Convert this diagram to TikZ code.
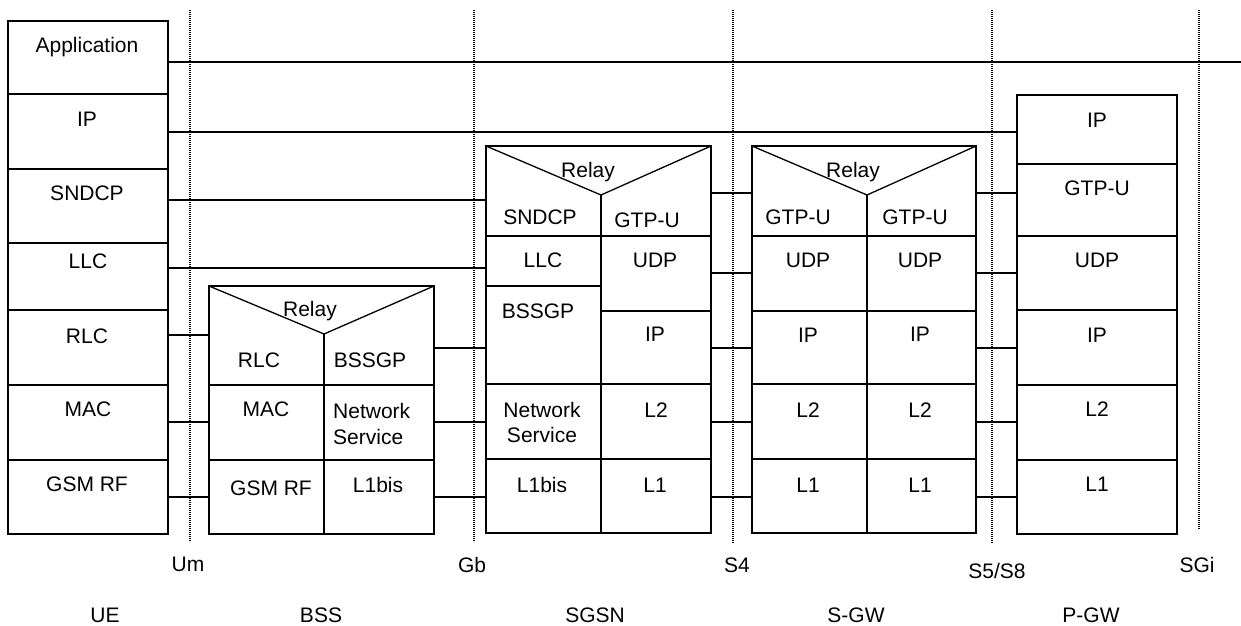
\documentclass[tikz,border=0pt]{standalone}
\usepackage{fontspec}
\setmainfont{Liberation Sans}
\tikzset{
  box/.style={draw, line width=1.3pt, inner sep=0pt, outer sep=0pt},
  conn/.style={line width=1.3pt},
  ifc/.style={line width=2pt, dash pattern=on 1.3pt off 0.7pt},
  txt/.style={anchor=base, inner sep=0pt, font=\fontsize{21}{25.5}\selectfont},
}
\newcommand\mkcell[5]{\node[box, minimum width={#4-#2}, minimum height={#5-#3}] (#1) at ({(#2+#4)/2},{(#3+#5)/2}) {};}
\begin{document}
\begin{tikzpicture}[x=1pt,y=-1pt]
\useasboundingbox (0,0) rectangle (1241,625);
% ---------- UE ----------
\mkcell{ueApp}{8}{21}{168}{94}
\mkcell{ueIP}{8}{94}{168}{169}
\mkcell{ueSNDCP}{8}{169}{168}{243}
\mkcell{ueLLC}{8}{243}{168}{310}
\mkcell{ueRLC}{8}{310}{168}{385}
\mkcell{ueMAC}{8}{385}{168}{460}
\mkcell{ueRF}{8}{460}{168}{534}
\node[txt] (tueApp) at (87,52) {Application};
\node[txt] (tueIP) at (87,126) {IP};
\node[txt] (tueSNDCP) at (87,200) {SNDCP};
\node[txt] (tueLLC) at (88,268) {LLC};
\node[txt] (tueRLC) at (87,343) {RLC};
\node[txt] (tueMAC) at (88,416) {MAC};
\node[txt] (tueRF) at (87,491) {GSM RF};
% ---------- BSS ----------
\mkcell{bssTop}{209}{286}{434}{385}
\mkcell{bssMAC}{209}{385}{324}{460}
\mkcell{bssNS}{324}{385}{434}{460}
\mkcell{bssRF}{209}{460}{324}{534}
\mkcell{bssL1}{324}{460}{434}{534}
\coordinate (bssV) at (324,334);
\draw[conn] (bssTop.north west) -- (bssV) -- (bssTop.north east);
\draw[conn] (bssV) -- (bssV |- bssTop.south);
\node[txt] (tbssRelay) at (310,316) {Relay};
\node[txt] (tbssRLC) at (259,367) {RLC};
\node[txt] (tbssBSSGP) at (370,367) {BSSGP};
\node[txt] (tbssMAC) at (266,416) {MAC};
\node[txt,anchor=base west] (tbssNet) at (333,418) {Network};
\node[txt,anchor=base west] (tbssSer) at (333,444) {Service};
\node[txt] (tbssRF) at (271,495) {GSM RF};
\node[txt] (tbssL1) at (378,492) {L1bis};
% ---------- SGSN ----------
\mkcell{sgsnTop}{486}{146}{711}{236}
\mkcell{sgsnLLC}{486}{236}{601}{286}
\mkcell{sgsnBSSGP}{486}{286}{601}{384}
\mkcell{sgsnNS}{486}{384}{601}{459}
\mkcell{sgsnL1bis}{486}{459}{601}{533}
\mkcell{sgsnUDP}{601}{236}{711}{311}
\mkcell{sgsnIP}{601}{311}{711}{384}
\mkcell{sgsnL2}{601}{384}{711}{459}
\mkcell{sgsnL1}{601}{459}{711}{533}
\coordinate (sgsnV) at (601,195);
\draw[conn] (sgsnTop.north west) -- (sgsnV) -- (sgsnTop.north east);
\draw[conn] (sgsnV) -- (sgsnV |- sgsnTop.south);
\node[txt] (tsgsnRelay) at (588,177) {Relay};
\node[txt] (tsgsnSNDCP) at (540,224) {SNDCP};
\node[txt] (tsgsnGTP) at (647,227) {GTP-U};
\node[txt] (tsgsnLLC) at (543,267) {LLC};
\node[txt] (tsgsnUDP) at (655,267) {UDP};
\node[txt] (tsgsnBSSGP) at (538,318) {BSSGP};
\node[txt] (tsgsnIP) at (655,341) {IP};
\node[txt] (tsgsnNet) at (542,417) {Network};
\node[txt] (tsgsnSer) at (542,442) {Service};
\node[txt] (tsgsnL2) at (656,417) {L2};
\node[txt] (tsgsnL1bis) at (542,492) {L1bis};
\node[txt] (tsgsnL1) at (655,492) {L1};
% ---------- S-GW ----------
\mkcell{sgwTop}{752}{146}{976}{236}
\mkcell{sgwUDPa}{752}{236}{867}{311}
\mkcell{sgwUDPb}{867}{236}{976}{311}
\mkcell{sgwIPa}{752}{311}{867}{384}
\mkcell{sgwIPb}{867}{311}{976}{384}
\mkcell{sgwL2a}{752}{384}{867}{459}
\mkcell{sgwL2b}{867}{384}{976}{459}
\mkcell{sgwL1a}{752}{459}{867}{533}
\mkcell{sgwL1b}{867}{459}{976}{533}
\coordinate (sgwV) at (867,195);
\draw[conn] (sgwTop.north west) -- (sgwV) -- (sgwTop.north east);
\draw[conn] (sgwV) -- (sgwV |- sgwTop.south);
\node[txt] (tsgwRelay) at (853,177) {Relay};
\node[txt] (tsgwGTPa) at (798,224) {GTP-U};
\node[txt] (tsgwGTPb) at (915,224) {GTP-U};
\node[txt] (tsgwUDPa) at (808,267) {UDP};
\node[txt] (tsgwUDPb) at (920,267) {UDP};
\node[txt] (tsgwIPa) at (808,342) {IP};
\node[txt] (tsgwIPb) at (920,341) {IP};
\node[txt] (tsgwL2a) at (808,417) {L2};
\node[txt] (tsgwL2b) at (920,417) {L2};
\node[txt] (tsgwL1a) at (808,492) {L1};
\node[txt] (tsgwL1b) at (920,492) {L1};
% ---------- P-GW ----------
\mkcell{pgwIPa}{1017}{95}{1177}{164}
\mkcell{pgwGTP}{1017}{164}{1177}{236}
\mkcell{pgwUDP}{1017}{236}{1177}{310}
\mkcell{pgwIPb}{1017}{310}{1177}{385}
\mkcell{pgwL2}{1017}{385}{1177}{460}
\mkcell{pgwL1}{1017}{460}{1177}{534}
\node[txt] (tpgwIPa) at (1097,127) {IP};
\node[txt] (tpgwGTP) at (1097,195) {GTP-U};
\node[txt] (tpgwUDP) at (1097,267) {UDP};
\node[txt] (tpgwIPb) at (1097,342) {IP};
\node[txt] (tpgwL2) at (1097,416) {L2};
\node[txt] (tpgwL1) at (1097,491) {L1};
% ---------- peer connectors ----------
\coordinate (appEnd) at (1241,62);
\draw[conn] (ueApp.east |- appEnd) -- (appEnd);
\draw[conn] (ueIP.east |- 0,132) -- (pgwIPa.west |- 0,132);
\draw[conn] (ueSNDCP.east |- 0,200) -- (sgsnTop.west |- 0,200);
\draw[conn] (ueLLC.east |- 0,268) -- (sgsnLLC.west |- 0,268);
\draw[conn] (ueRLC.east |- 0,335) -- (bssTop.west |- 0,335);
\draw[conn] (ueMAC.east |- 0,422) -- (bssMAC.west |- 0,422);
\draw[conn] (ueRF.east |- 0,497) -- (bssRF.west |- 0,497);
\draw[conn] (bssTop.east |- 0,348) -- (sgsnBSSGP.west |- 0,348);
\draw[conn] (bssNS.east |- 0,422) -- (sgsnNS.west |- 0,422);
\draw[conn] (bssL1.east |- 0,497) -- (sgsnL1bis.west |- 0,497);
\draw[conn] (sgsnTop.east |- 0,193) -- (sgwTop.west |- 0,193);
\draw[conn] (sgsnUDP.east |- 0,273) -- (sgwUDPa.west |- 0,273);
\draw[conn] (sgsnIP.east |- 0,348) -- (sgwIPa.west |- 0,348);
\draw[conn] (sgsnL2.east |- 0,422) -- (sgwL2a.west |- 0,422);
\draw[conn] (sgsnL1.east |- 0,497) -- (sgwL1a.west |- 0,497);
\draw[conn] (sgwTop.east |- 0,193) -- (pgwGTP.west |- 0,193);
\draw[conn] (sgwUDPb.east |- 0,273) -- (pgwUDP.west |- 0,273);
\draw[conn] (sgwIPb.east |- 0,348) -- (pgwIPb.west |- 0,348);
\draw[conn] (sgwL2b.east |- 0,422) -- (pgwL2.west |- 0,422);
\draw[conn] (sgwL1b.east |- 0,497) -- (pgwL1.west |- 0,497);
% ---------- reference points ----------
\draw[ifc] (190,10) -- (190,542);
\draw[ifc] (474,10) -- (474,542);
\draw[ifc] (733,10) -- (733,543);
\draw[ifc] (992,10) -- (992,543);
\draw[ifc] (1199,10) -- (1199,529);
\node[txt] (lUm) at (188,571) {Um};
\node[txt] (lGb) at (472,572) {Gb};
\node[txt] (lS4) at (737,572) {S4};
\node[txt] (lS5) at (997,578) {S5/S8};
\node[txt] (lSGi) at (1197,572) {SGi};
\node[txt] (lUE) at (105,622) {UE};
\node[txt] (lBSS) at (321,622) {BSS};
\node[txt] (lSGSN) at (595,622) {SGSN};
\node[txt] (lSGW) at (856,622) {S-GW};
\node[txt] (lPGW) at (1091,622) {P-GW};
\end{tikzpicture}
\end{document}
